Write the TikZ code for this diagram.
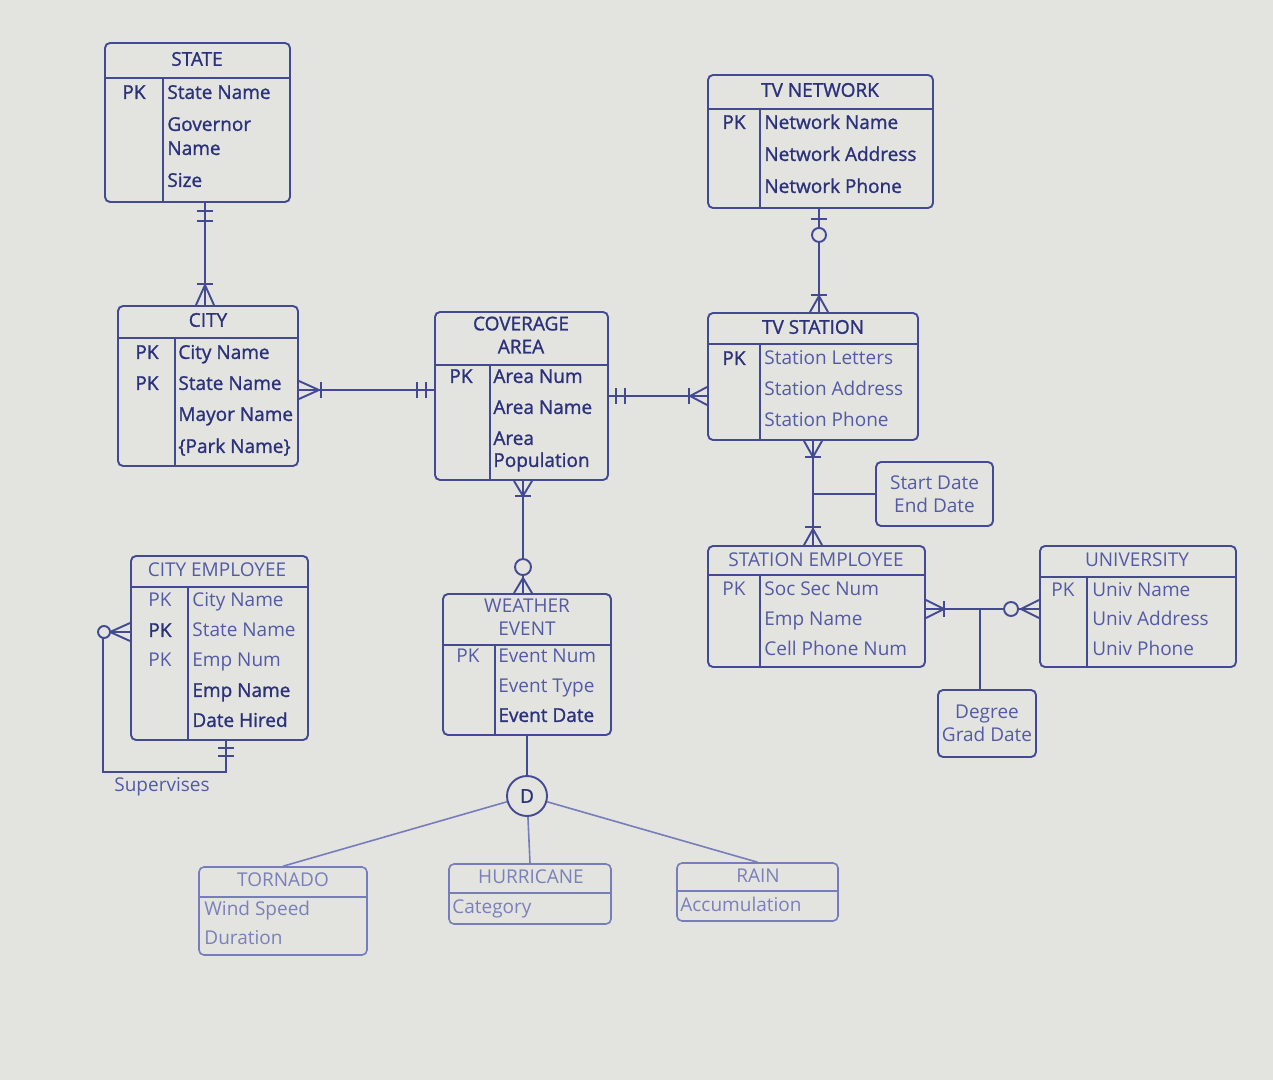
\documentclass[tikz,border=0pt]{standalone}
\usepackage{fontspec}
\setmainfont{Open Sans}
\newfontfamily\heavyfam{Open Sans}[FakeBold=1.2]
\definecolor{bg}{HTML}{E3E3E0}
\definecolor{ink}{HTML}{434993}
\definecolor{inkl}{HTML}{777DBB}
\definecolor{txt}{HTML}{2B317B}
\definecolor{txtb}{HTML}{545AA4}
\definecolor{txtc}{HTML}{7A80BA}
\newcommand\fs{\heavyfam\fontsize{9.5}{11.5}\selectfont}
\newcommand\fsl{\normalfont\fontsize{9.5}{11.5}\selectfont}
\tikzset{
  ln/.style={draw=ink, line width=0.95pt},
  lnl/.style={draw=inkl, line width=0.8pt},
  ebox/.style={ln, rounded corners=2.5pt, inner sep=0pt},
  lbl/.style={font=\fs, text=txt, inner sep=0pt, text height=6.8pt, text depth=1.9pt},
  attr/.style={lbl, anchor=west},
  ttl/.style={font=\fs, text=txt, inner sep=0pt, align=center},
  mid/.style={text=txtb, font=\fsl},
  low/.style={text=txtc, font=\fsl},
}
% entity box: name, x1, y1, x2, y2, header y, divider x
\newcommand\ent[8][ln]{%
  \node[ebox, #1, minimum width={(#5-#3)*0.5pt}, minimum height={(#6-#4)*0.5pt}] (#2) at ({(#3+#5)/2},{(#4+#6)/2}) {};
  \draw[#1] (#3,#7) -- (#5,#7);
  \draw[#1] (#8,#7) -- (#8,#6);
}
% subtype box without divider
\newcommand\entn[7][ln]{%
  \node[ebox, #1, minimum width={(#5-#3)*0.5pt}, minimum height={(#6-#4)*0.5pt}] (#2) at ({(#3+#5)/2},{(#4+#6)/2}) {};
  \draw[#1] (#3,#7) -- (#5,#7);
}
% crow's foot: point, angle, length
\newcommand\crowf[3]{\begin{scope}[shift={#1}, rotate=#2]\draw[ln] (0,-9) -- (#3,0) -- (0,9);\end{scope}}
% bar: point, angle, distance
\newcommand\tbar[3]{\begin{scope}[shift={#1}, rotate=#2]\draw[ln] (#3,-8) -- (#3,8);\end{scope}}
% open circle: point, angle, distance, radius
\newcommand\ocirc[4]{\begin{scope}[shift={#1}, rotate=#2]\draw[ln, fill=bg] (#3,0) circle[radius=#4];\end{scope}}
\begin{document}
\begin{tikzpicture}[x=0.5pt, y=-0.5pt]
\fill[bg] (0,0) rectangle (1273,1080);
\useasboundingbox (0,0) rectangle (1273,1080);

% ---------- STATE ----------
\ent{state}{105}{43}{290}{202}{78}{163}
\node[ttl] (stateT) at (197,59) {STATE};
\node[lbl] (statePK) at (134,94) {PK};
\node[attr] (stateA1) at (167,94) {State Name};
\node[attr] (stateA2) at (167,126) {Governor};
\node[attr] (stateA3) at (167,150) {Name};
\node[attr] (stateA4) at (167,182) {Size};

% ---------- CITY ----------
\ent{city}{118}{306}{298}{466}{338}{175}
\node[ttl] (cityT) at (208,320) {CITY};
\node[lbl] (cityPK1) at (147,354) {PK};
\node[lbl] (cityPK2) at (147,385) {PK};
\node[attr] (cityA1) at (178,354) {City Name};
\node[attr] (cityA2) at (178,385) {State Name};
\node[attr] (cityA3) at (178,416) {Mayor Name};
\node[attr] (cityA4) at (178,448) {\{Park Name\}};

% ---------- COVERAGE AREA ----------
\ent{cov}{435}{312}{608}{480}{365}{490}
\node[ttl] (covT) at (521,335) {COVERAGE\\AREA};
\node[lbl] (covPK) at (461,378) {PK};
\node[attr] (covA1) at (493,378) {Area Num};
\node[attr] (covA2) at (493,409) {Area Name};
\node[attr] (covA3) at (493,440) {Area};
\node[attr] (covA4) at (493,462) {Population};

% ---------- TV NETWORK ----------
\ent{tvn}{708}{75}{933}{208}{109}{760}
\node[ttl] (tvnT) at (820,90) {TV NETWORK};
\node[lbl] (tvnPK) at (734,124) {PK};
\node[attr] (tvnA1) at (764,124) {Network Name};
\node[attr] (tvnA2) at (764,156) {Network Address};
\node[attr] (tvnA3) at (764,188) {Network Phone};

% ---------- TV STATION ----------
\ent{tvs}{708}{313}{918}{440}{344}{760}
\node[ttl] (tvsT) at (813,327) {TV STATION};
\node[lbl] (tvsPK) at (734,360) {PK};
\node[attr, mid] (tvsA1) at (764,360) {Station Letters};
\node[attr, mid] (tvsA2) at (764,391) {Station Address};
\node[attr, mid] (tvsA3) at (764,422) {Station Phone};

% ---------- Start / End box ----------
\node[ebox, minimum width=58.5pt, minimum height=32pt, ttl, mid, align=center] (start) at (934.5,494) {Start Date\\End Date};

% ---------- STATION EMPLOYEE ----------
\ent{se}{708}{546}{925}{667}{575}{760}
\node[ttl, mid] (seT) at (816,560) {STATION EMPLOYEE};
\node[lbl, mid] (sePK) at (734,591) {PK};
\node[attr, mid] (seA1) at (764,591) {Soc Sec Num};
\node[attr, mid] (seA2) at (764,621) {Emp Name};
\node[attr, mid] (seA3) at (764,651) {Cell Phone Num};

% ---------- UNIVERSITY ----------
\ent{univ}{1040}{546}{1236}{667}{577}{1087}
\node[ttl, mid] (univT) at (1137,560) {UNIVERSITY};
\node[lbl, mid] (univPK) at (1063,592) {PK};
\node[attr, mid] (univA1) at (1092,592) {Univ Name};
\node[attr, mid] (univA2) at (1092,621) {Univ Address};
\node[attr, mid] (univA3) at (1092,651) {Univ Phone};

% ---------- Degree box ----------
\node[ebox, minimum width=49pt, minimum height=33.5pt, ttl, mid, align=center] (deg) at (987,723.5) {Degree\\Grad Date};

% ---------- CITY EMPLOYEE ----------
\ent{ce}{131}{556}{308}{740}{587}{188}
\node[ttl, mid] (ceT) at (217,570) {CITY EMPLOYEE};
\node[lbl, mid] (cePK1) at (160,602) {PK};
\node[lbl] (cePK2) at (160,632) {PK};
\node[lbl, mid] (cePK3) at (160,662) {PK};
\node[attr, mid] (ceA1) at (192,602) {City Name};
\node[attr, mid] (ceA2) at (192,632) {State Name};
\node[attr, mid] (ceA3) at (192,662) {Emp Num};
\node[attr] (ceA4) at (192,692) {Emp Name};
\node[attr] (ceA5) at (192,722) {Date Hired};
\node[lbl, mid] (sup) at (162,787) {Supervises};

% ---------- WEATHER EVENT ----------
\ent{we}{443}{594}{611}{735}{645}{495}
\node[ttl, mid] (weT) at (527,617) {WEATHER\\EVENT};
\node[lbl, mid] (wePK) at (468,658) {PK};
\node[attr, mid] (weA1) at (498,658) {Event Num};
\node[attr, mid] (weA2) at (498,688) {Event Type};
\node[attr] (weA3) at (498,717) {Event Date};

% ---------- D ----------
\node[ln, circle, minimum size=20pt, inner sep=0pt, font=\fs, text=txt] (d) at (527,796) {D};

% ---------- Subtypes ----------
\entn[lnl]{tor}{199}{867}{367}{955}{897}
\node[ttl, low] (torT) at (283,880) {TORNADO};
\node[attr, low] (torA1) at (204,911) {Wind Speed};
\node[attr, low] (torA2) at (204,940) {Duration};

\entn[lnl]{hur}{449}{864}{611}{924}{893}
\node[ttl, low] (hurT) at (531,877) {HURRICANE};
\node[attr, low] (hurA1) at (452,909) {Category};

\entn[lnl]{rain}{677}{863}{838}{921}{891}
\node[ttl, low] (rainT) at (758,876) {RAIN};
\node[attr, low] (rainA1) at (680,907) {Accumulation};

% ---------- Connectors ----------
% STATE - CITY
\draw[ln] ([xshift=3.75pt]state.south) -- ([xshift=-1.5pt]city.north);
\tbar{([xshift=3.75pt]state.south)}{-90}{8}
\tbar{([xshift=3.75pt]state.south)}{-90}{18}
\crowf{([xshift=-1.5pt]city.north)}{90}{20}
\tbar{([xshift=-1.5pt]city.north)}{90}{21}

% CITY - COVERAGE AREA
\draw[ln] ([yshift=-2pt]city.east) -- ([yshift=3pt]cov.west);
\crowf{([yshift=-2pt]city.east)}{0}{20}
\tbar{([yshift=-2pt]city.east)}{0}{22}
\tbar{([yshift=3pt]cov.west)}{180}{8}
\tbar{([yshift=3pt]cov.west)}{180}{17}

% COVERAGE AREA - TV STATION
\draw[ln] (cov.east) -- ([yshift=-9.75pt]tvs.west);
\tbar{(cov.east)}{0}{7}
\tbar{(cov.east)}{0}{16}
\crowf{([yshift=-9.75pt]tvs.west)}{180}{17}
\tbar{([yshift=-9.75pt]tvs.west)}{180}{18}

% TV NETWORK - TV STATION
\draw[ln] ([xshift=-0.75pt]tvn.south) -- ([xshift=3pt]tvs.north);
\tbar{([xshift=-0.75pt]tvn.south)}{-90}{10}
\ocirc{([xshift=-0.75pt]tvn.south)}{-90}{26}{7}
\crowf{([xshift=3pt]tvs.north)}{90}{16}
\tbar{([xshift=3pt]tvs.north)}{90}{17}

% TV STATION - STATION EMPLOYEE
\draw[ln] (tvs.south) -- ([xshift=-1.75pt]se.north);
\crowf{(tvs.south)}{-90}{16}
\tbar{(tvs.south)}{-90}{16}
\crowf{([xshift=-1.75pt]se.north)}{90}{16}
\tbar{([xshift=-1.75pt]se.north)}{90}{18}
\coordinate (j1) at (813,494);
\draw[ln] (j1) -- (start.west);

% COVERAGE AREA - WEATHER EVENT
\draw[ln] ([xshift=0.75pt]cov.south) -- ([xshift=-2pt]we.north);
\crowf{([xshift=0.75pt]cov.south)}{-90}{15}
\tbar{([xshift=0.75pt]cov.south)}{-90}{15}
\crowf{([xshift=-2pt]we.north)}{90}{15}
\ocirc{([xshift=-2pt]we.north)}{90}{26}{8}

% STATION EMPLOYEE - UNIVERSITY
\draw[ln] ([yshift=-1.25pt]se.east) -- ([yshift=-1.25pt]univ.west);
\crowf{([yshift=-1.25pt]se.east)}{0}{18}
\tbar{([yshift=-1.25pt]se.east)}{0}{18}
\crowf{([yshift=-1.25pt]univ.west)}{180}{18}
\ocirc{([yshift=-1.25pt]univ.west)}{180}{28}{7}
\coordinate (j2) at (980,609);
\draw[ln] (j2) -- ([xshift=-3.5pt]deg.north);

% CITY EMPLOYEE self relation (Supervises)
\coordinate (l1) at (103,632);
\coordinate (l2) at (103,772);
\coordinate (l3) at (226,772);
\draw[ln] ([yshift=8pt]ce.west) -- (l1) -- (l2) -- (l3) -- ([xshift=3.25pt]ce.south);
\crowf{([yshift=8pt]ce.west)}{180}{20}
\ocirc{([yshift=8pt]ce.west)}{180}{26}{6}
\tbar{([xshift=3.25pt]ce.south)}{-90}{7}
\tbar{([xshift=3.25pt]ce.south)}{-90}{15}

% WEATHER EVENT - D - subtypes
\draw[ln] (we.south) -- (d.north);
\draw[lnl] (d) -- (tor.north);
\draw[lnl] (d) -- (hur.north);
\draw[lnl] (d) -- (rain.north);
\end{tikzpicture}
\end{document}
